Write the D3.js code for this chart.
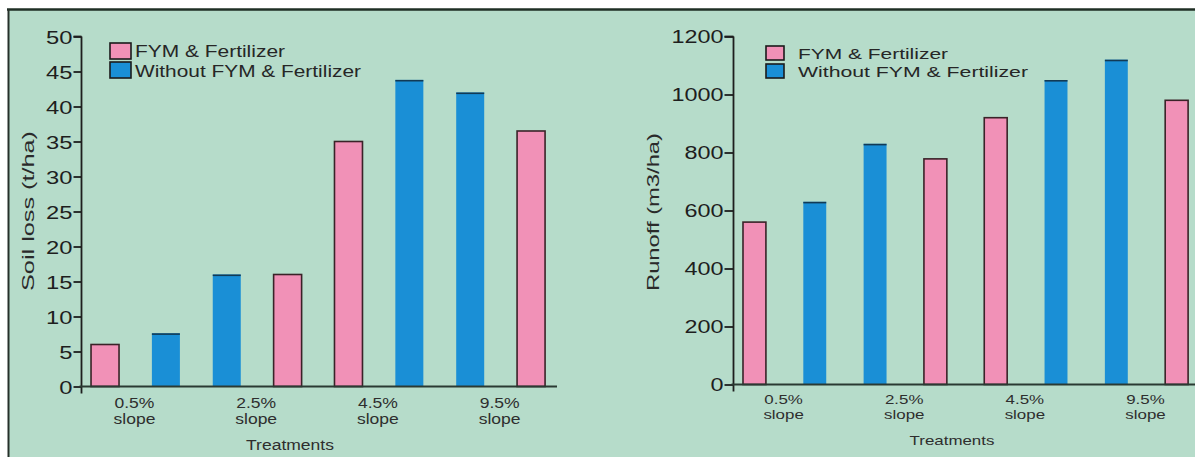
<!DOCTYPE html>
<html><head><meta charset="utf-8">
<script src="https://cdn.jsdelivr.net/npm/d3@7"></script>
<style>html,body{margin:0;padding:0;background:#fff;}svg{display:block;}</style>
</head><body>
<script>
// ---- data ----
const categories = ["0.5%", "2.5%", "4.5%", "9.5%"];
const seriesNames = ["FYM & Fertilizer", "Without FYM & Fertilizer"];
const soilFym = [6, 16, 35, 36.5];
const soilWithout = [7.6, 16, 43.8, 42];
const runoffFym = [560, 778, 920, 980];
const runoffWithout = [630, 830, 1050, 1120];
// which series is drawn first inside each group (0 = FYM, 1 = Without)
const firstSeries = [0, 1, 0, 1];
const soilTicks = [0, 5, 10, 15, 20, 25, 30, 35, 40, 45, 50];
const runoffTicks = [0, 200, 400, 600, 800, 1000, 1200];

const W = 1195, H = 457;
const BG = "#b6dcca", PINK = "#f191b7", BLUE = "#1a8fd6", INK = "#1e1e1e";

const svg = d3.select("body").append("svg").attr("width", W).attr("height", H)
  .style("font-family", "'Liberation Sans', Arial, Helvetica, sans-serif");

// stretch a text horizontally (the reference type is wide)
function stretch(sel, k) {
  sel.each(function () {
    const n = this.getComputedTextLength();
    d3.select(this).attr("textLength", n * k).attr("lengthAdjust", "spacingAndGlyphs");
  });
}

svg.append("rect").attr("x", 8).attr("y", 10).attr("width", W - 8).attr("height", H - 10).attr("fill", BG);
svg.append("line").attr("x1", 7).attr("x2", W).attr("y1", 9.5).attr("y2", 9.5).attr("stroke", "#1f2f25").attr("stroke-width", 2.5);
svg.append("line").attr("x1", 8.5).attr("x2", 8.5).attr("y1", 9).attr("y2", H).attr("stroke", "#26302a").attr("stroke-width", 2);

function panel(o) {
  const g = svg.append("g");
  const y = d3.scaleLinear().domain([o.ticks[0], o.ticks[o.ticks.length - 1]]).range([o.y0, o.y1]);
  const keys = [];
  categories.forEach((c, i) => {
    const order = firstSeries[i] === 0 ? [0, 1] : [1, 0];
    order.forEach(s => keys.push({cat: i, s: s, v: s === 0 ? o.fym[i] : o.without[i]}));
  });
  const x = d3.scaleBand().domain(d3.range(keys.length)).range([o.bx0, o.bx1])
    .paddingInner(o.pad).paddingOuter(o.pad / 2);

  // bars
  keys.forEach((k, j) => {
    const bx = x(j), bw = x.bandwidth(), top = y(k.v), base = y(0);
    if (k.s === 0) {
      g.append("rect").attr("x", bx).attr("y", top).attr("width", bw).attr("height", base - top)
        .attr("fill", PINK).attr("stroke", "#3a2328").attr("stroke-width", 1.6);
    } else {
      g.append("rect").attr("x", bx).attr("y", top).attr("width", bw).attr("height", base - top)
        .attr("fill", BLUE);
      g.append("line").attr("x1", bx).attr("x2", bx + bw).attr("y1", top + 0.8).attr("y2", top + 0.8)
        .attr("stroke", "#123a55").attr("stroke-width", 1.6);
    }
  });

  // y axis
  const ax = g.append("g").attr("transform", `translate(${o.ax},0)`)
    .call(d3.axisLeft(y).tickValues(o.ticks).tickFormat(d3.format("d")).tickSize(o.tick).tickSizeOuter(o.tick).tickPadding(1));
  ax.selectAll("path,line").attr("stroke", INK).attr("stroke-width", 1.8);
  const tl = ax.selectAll("text").attr("fill", INK).style("font-size", o.tickFont + "px").attr("dy", "0.36em");
  stretch(tl, o.tickStretch);
  ax.select(".domain").remove();
  g.append("line").attr("x1", o.ax).attr("x2", o.ax).attr("y1", y(o.ticks[o.ticks.length - 1]))
    .attr("y2", y(0) + 7).attr("stroke", INK).attr("stroke-width", 1.8);
  g.append("line").attr("x1", o.ax - o.tick).attr("x2", o.ax).attr("y1", y(o.ticks[o.ticks.length - 1]))
    .attr("y2", y(o.ticks[o.ticks.length - 1])).attr("stroke", INK).attr("stroke-width", 1.8);

  // x axis line
  g.append("line").attr("x1", o.ax - 2).attr("x2", o.xEnd).attr("y1", y(0)).attr("y2", y(0))
    .attr("stroke", "#2a3a33").attr("stroke-width", 1.8);

  // category labels
  categories.forEach((c, i) => {
    const cx = (x(2 * i) + x(2 * i + 1) + x.bandwidth()) / 2 - 1;
    const t1 = g.append("text").attr("x", cx).attr("y", o.catY1).attr("text-anchor", "middle")
      .attr("fill", "#2e2e2e").style("font-size", o.catFont + "px").text(c);
    const t2 = g.append("text").attr("x", cx).attr("y", o.catY2).attr("text-anchor", "middle")
      .attr("fill", "#2e2e2e").style("font-size", o.catFont + "px").text("slope");
    stretch(t1, o.catStretch); stretch(t2, o.catStretch);
  });
  const tt = g.append("text").attr("x", o.titleX).attr("y", o.titleY).attr("text-anchor", "middle")
    .attr("fill", "#2e2e2e").style("font-size", o.catFont + "px").text("Treatments");
  stretch(tt, o.catStretch);

  // y label
  g.append("text").attr("transform", `translate(${o.ylx},${o.yly}) rotate(-90)`).attr("text-anchor", "middle")
    .attr("fill", "#2a2a2a").style("font-size", o.ylFont + "px")
    .attr("textLength", o.ylLen).attr("lengthAdjust", "spacingAndGlyphs").text(o.ylabel);

  // legend
  seriesNames.forEach((n, i) => {
    g.append("rect").attr("x", o.legX).attr("y", o.sqY[i]).attr("width", o.sqW).attr("height", o.sqH)
      .attr("fill", i === 0 ? PINK : BLUE).attr("stroke", "#1b1b1b").attr("stroke-width", 1.6);
    g.append("text").attr("x", o.legTX).attr("y", o.legBase[i])
      .attr("fill", "#262626").style("font-size", o.legFont + "px")
      .attr("textLength", o.legLen[i]).attr("lengthAdjust", "spacingAndGlyphs").text(n);
  });
}

panel({
  ticks: soilTicks, fym: soilFym, without: soilWithout,
  y0: 386.5, y1: 36.5, ax: 81.5, bx0: 74.6, bx1: 561.5, pad: 0.54, xEnd: 557,
  tick: 8, tickFont: 19, tickStretch: 1.25,
  catFont: 14, catStretch: 1.25, catY1: 408, catY2: 424, titleX: 290, titleY: 450,
  ylx: 34, yly: 211, ylFont: 17, ylLen: 160, ylabel: "Soil loss (t/ha)",
  legX: 110, sqY: [43, 62], sqW: 21, sqH: 16, legTX: 135, legBase: [57, 77], legFont: 17, legLen: [150, 226]
});

panel({
  ticks: runoffTicks, fym: runoffFym, without: runoffWithout,
  y0: 384.5, y1: 36.5, ax: 733.5, bx0: 724.3, bx1: 1206.8, pad: 0.62, xEnd: 1195,
  tick: 9, tickFont: 18, tickStretch: 1.3,
  catFont: 13, catStretch: 1.3, catY1: 404, catY2: 419, titleX: 952, titleY: 445,
  ylx: 659, yly: 212, ylFont: 17, ylLen: 158, ylabel: "Runoff (m3/ha)",
  legX: 766, sqY: [46, 64], sqW: 18, sqH: 14, legTX: 798, legBase: [59, 77], legFont: 15, legLen: [150, 230]
});
</script>
</body></html>
